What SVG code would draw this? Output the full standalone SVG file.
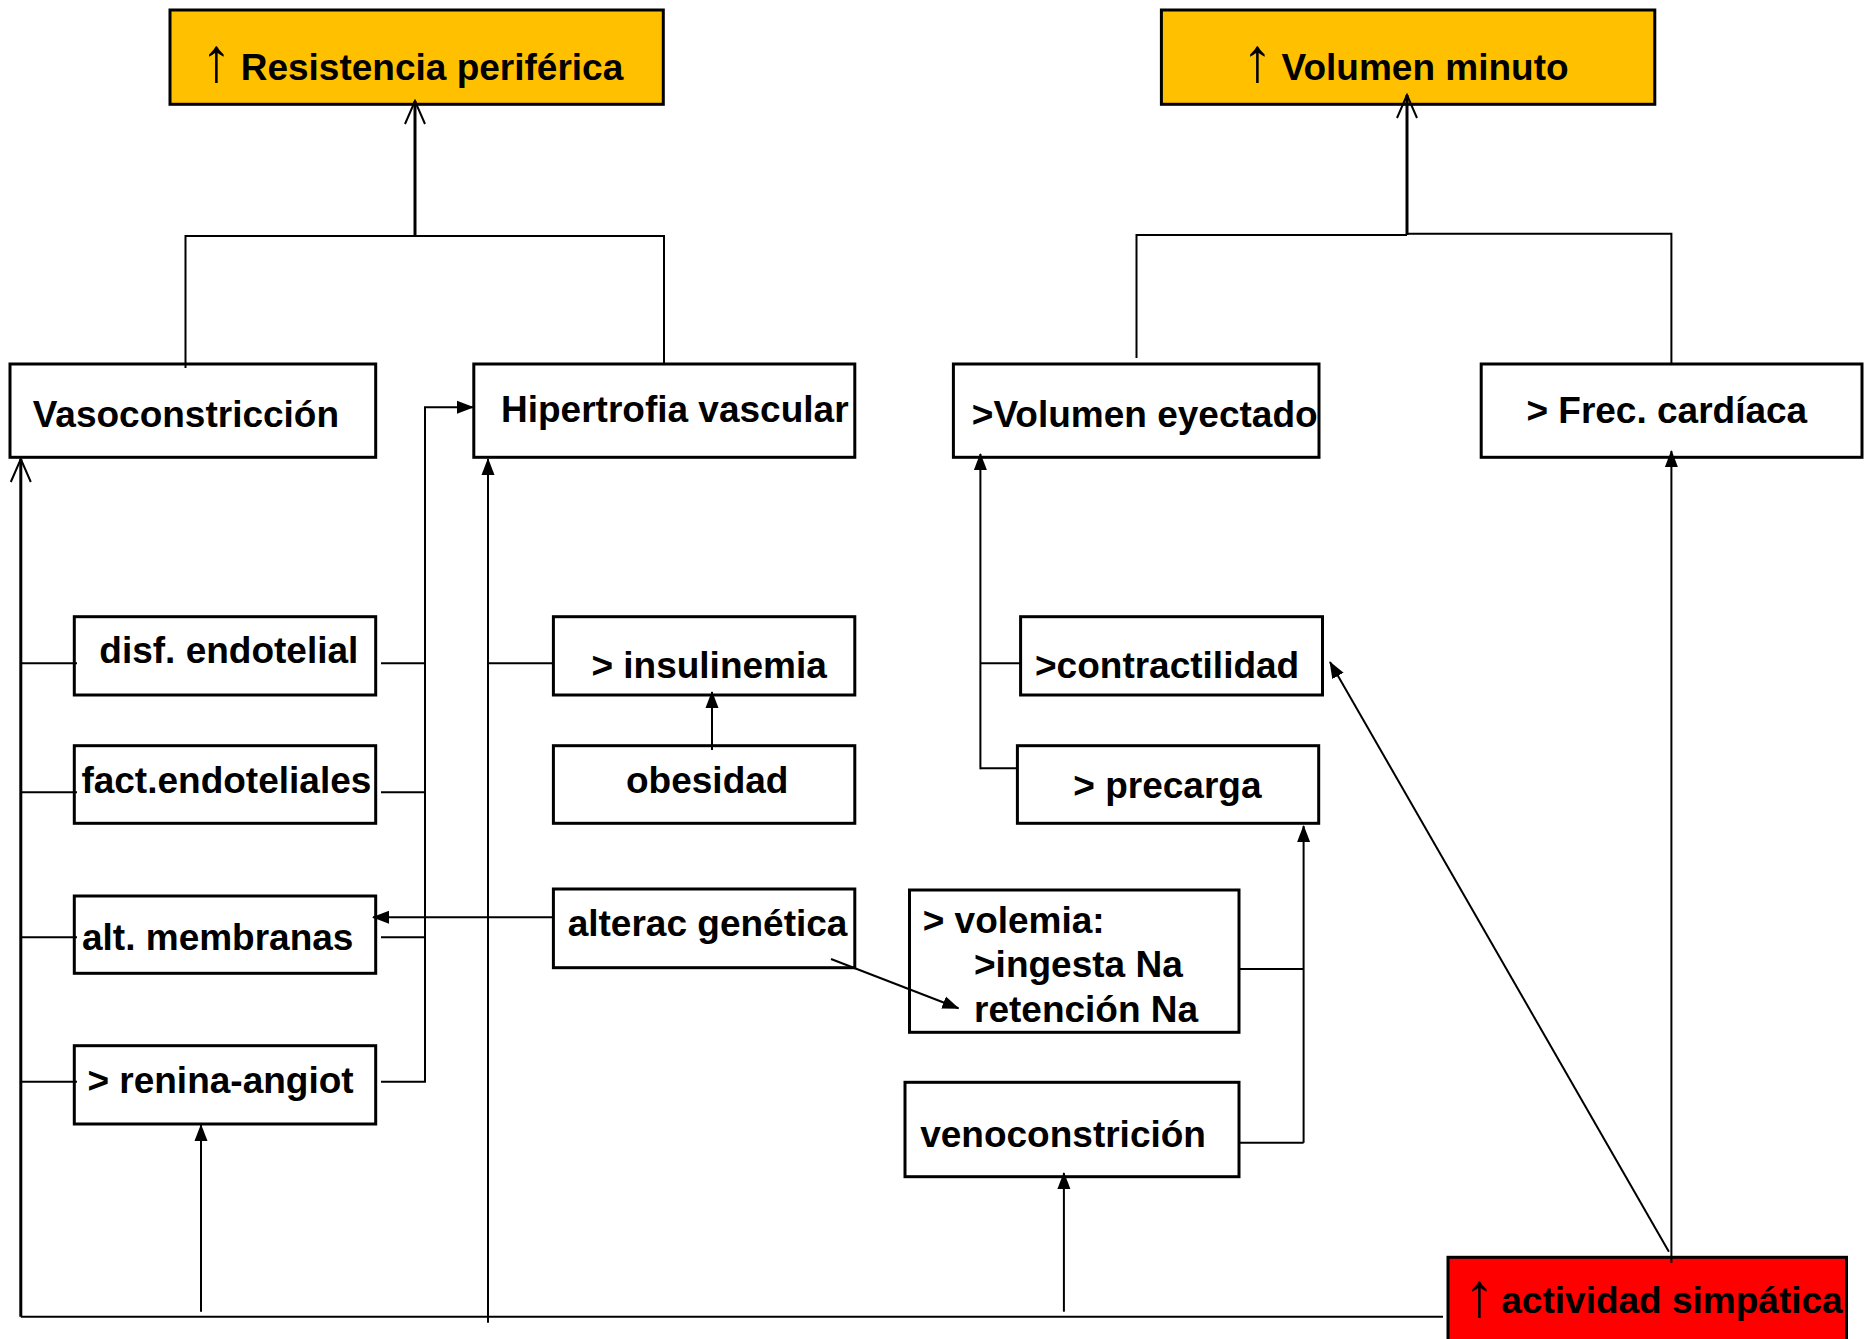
<svg xmlns="http://www.w3.org/2000/svg" width="1864" height="1339" viewBox="0 0 1864 1339">
<style>
.box{fill:#fff;stroke:#000;stroke-width:3}
.yel{fill:#FFC000;stroke:#000;stroke-width:3}
.red{fill:#FF0000;stroke:#000;stroke-width:3}
.t{font-family:"Liberation Sans",Arial,sans-serif;font-weight:bold;font-size:37px;fill:#000}
.ar{font-family:"Liberation Sans",Arial,sans-serif;font-weight:normal;font-size:62px;fill:#000}
.c{fill:none;stroke:#000;stroke-width:2}
.ca{fill:none;stroke:#000;stroke-width:2;marker-end:url(#fa)}
.co{fill:none;stroke:#000;stroke-width:3;marker-end:url(#oa)}
</style>
<defs>
<marker id="fa" markerUnits="userSpaceOnUse" markerWidth="17" markerHeight="14" refX="16" refY="7" orient="auto">
<path d="M0,0.5 L17,7 L0,13.5 z" fill="#000"/>
</marker>
<marker id="oa" markerUnits="userSpaceOnUse" markerWidth="26" markerHeight="24" refX="24" refY="12" orient="auto">
<path d="M1,2 L24,12 L1,22" fill="none" stroke="#000" stroke-width="2"/>
</marker>
</defs>

<g id="resistencia">
<rect class="yel" x="170" y="10" width="493.3" height="94.3"/>
<text class="ar" x="201" y="81">↑</text>
<text class="t" x="240.7" y="80">Resistencia periférica</text>
</g>
<g id="volumen-minuto">
<rect class="yel" x="1161.4" y="10" width="493.4" height="94.3"/>
<text class="ar" x="1242" y="81">↑</text>
<text class="t" x="1281.5" y="80">Volumen minuto</text>
</g>
<g id="vasoconstriccion">
<rect class="box" x="10" y="364" width="365.7" height="93.3"/>
<text class="t" x="32.7" y="427">Vasoconstricción</text>
</g>
<g id="hipertrofia">
<rect class="box" x="473.8" y="364" width="381" height="93.3"/>
<text class="t" x="501" y="422.3">Hipertrofia vascular</text>
</g>
<g id="volumen-eyectado">
<rect class="box" x="953.4" y="364" width="365.6" height="93.3"/>
<text class="t" x="971.8" y="427.3">&gt;Volumen eyectado</text>
</g>
<g id="frec-cardiaca">
<rect class="box" x="1481.2" y="364" width="380.8" height="93.3"/>
<text class="t" x="1526.4" y="422.7">&gt; Frec. cardíaca</text>
</g>
<g id="disf-endotelial">
<rect class="box" x="74.3" y="616.7" width="301.4" height="78.3"/>
<text class="t" x="99.3" y="662.7">disf. endotelial</text>
</g>
<g id="fact-endoteliales">
<rect class="box" x="74.3" y="745.7" width="301.4" height="77.6"/>
<text class="t" x="81.4" y="792.7">fact.endoteliales</text>
</g>
<g id="alt-membranas">
<rect class="box" x="74.3" y="896" width="301.4" height="77.3"/>
<text class="t" x="82" y="950">alt. membranas</text>
</g>
<g id="renina-angiot">
<rect class="box" x="74.3" y="1045.7" width="301.4" height="78.3"/>
<text class="t" x="87.4" y="1093.3">&gt; renina-angiot</text>
</g>
<g id="insulinemia">
<rect class="box" x="553.4" y="616.7" width="301.4" height="78.3"/>
<text class="t" x="591.4" y="678.3">&gt; insulinemia</text>
</g>
<g id="obesidad">
<rect class="box" x="553.4" y="745.7" width="301.4" height="77.6"/>
<text class="t" x="626" y="792.7">obesidad</text>
</g>
<g id="alterac-genetica">
<rect class="box" x="553.4" y="889" width="301.4" height="78.7"/>
<text class="t" x="567.7" y="936">alterac genética</text>
</g>
<g id="contractilidad">
<rect class="box" x="1020.6" y="616.7" width="301.9" height="78.3"/>
<text class="t" x="1035" y="678.3">&gt;contractilidad</text>
</g>
<g id="precarga">
<rect class="box" x="1017.4" y="745.7" width="301.3" height="77.6"/>
<text class="t" x="1073.3" y="798.3">&gt; precarga</text>
</g>
<g id="volemia">
<rect class="box" x="909.5" y="890" width="329.5" height="142.3"/>
<text class="t" x="922.7" y="933.3">&gt; volemia:</text>
<text class="t" x="974" y="977.3">&gt;ingesta Na</text>
<text class="t" x="974" y="1021.7">retención Na</text>
</g>
<g id="venoconstricion">
<rect class="box" x="905" y="1082.3" width="334" height="94.4"/>
<text class="t" x="920.2" y="1146.7">venoconstrición</text>
</g>
<g id="actividad-simpatica">
<rect class="red" x="1448" y="1257.3" width="398.5" height="90"/>
<text class="ar" x="1464" y="1316">↑</text>
<text class="t" x="1501.3" y="1313.3">actividad simpática</text>
</g>

<g id="connectors">
<path class="co" d="M415,236 V101"/>
<path class="c" d="M185.5,368 V236 H664 V364"/>
<path class="co" d="M1407,235 V95"/>
<path class="c" d="M1136.5,358 V235 H1407"/>
<path class="c" d="M1407,233.7 H1671.4 V364"/>
<path class="co" d="M20.8,1316.7 V459"/>
<path class="c" d="M20.8,1316.7 H1443"/>
<path class="c" d="M20.8,663.3 H77"/>
<path class="c" d="M20.8,792.3 H77"/>
<path class="c" d="M20.8,937.3 H77"/>
<path class="c" d="M20.8,1081.7 H77"/>
<path class="c" d="M381,663.3 H425"/>
<path class="c" d="M381,792.3 H425"/>
<path class="c" d="M381,937.3 H425"/>
<path class="ca" d="M381,1081.7 H425 V407.3 H473"/>
<path class="ca" d="M488,1322.7 V459"/>
<path class="c" d="M488,663.3 H553.4"/>
<path class="ca" d="M712,750 V692"/>
<path class="ca" d="M553.4,917.3 H373"/>
<path class="ca" d="M831,959 L958.5,1008.3"/>
<path class="ca" d="M201,1311.7 V1125"/>
<path class="ca" d="M980.4,769.3 V454"/>
<path class="c" d="M980.4,663.3 H1020.6"/>
<path class="c" d="M980.4,768.3 H1017.4"/>
<path class="c" d="M1239,969 H1303.6"/>
<path class="c" d="M1239,1142.7 H1303.6"/>
<path class="ca" d="M1303.6,1142.7 V826"/>
<path class="ca" d="M1063.9,1311.7 V1173"/>
<path class="ca" d="M1671.4,1263 V451"/>
<path class="ca" d="M1668.9,1251.7 L1330,662"/>
</g>
</svg>
